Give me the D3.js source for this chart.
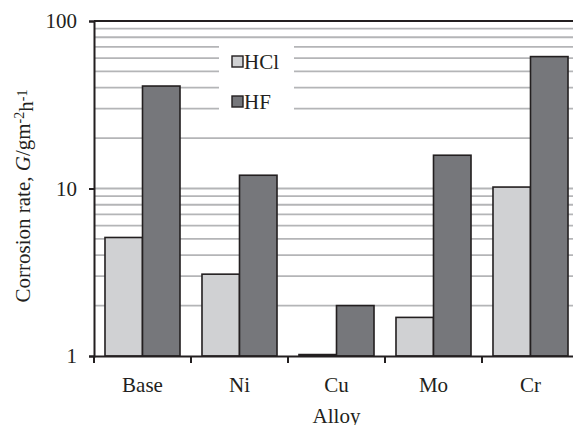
<!DOCTYPE html>
<meta charset="utf-8">
<title>Corrosion rate by alloy</title>
<style>
body {
  margin: 0px;
  background: #fff;
}
svg {
  display: block;
  font-family: "Liberation Serif", "Times New Roman", serif;
}
</style>
<body>
<script src="https://cdn.jsdelivr.net/npm/d3@7"></script>
<script>

// values
var alloys = ["Base", "Ni", "Cu", "Mo", "Cr"];
var series = ["HCl", "HF"];
var hcl = [5.1, 3.08, 1.02, 1.7, 10.2];
var hf = [40.9, 12.0, 2.0, 15.8, 61.3];
var yTicks = [1, 10, 100];
var colors = ["#d0d1d3", "#76777b"];

var width = 573, height = 425;
var plotLeft = 94, plotTop = 21, plotW = 485, plotH = 335;

var svg = d3.select("body").append("svg")
    .attr("width", width)
    .attr("height", height);

var x0 = d3.scaleBand().domain(alloys).range([plotLeft, plotLeft + plotW]);
var x1 = d3.scaleBand().domain(series).range([0, x0.bandwidth()]).paddingOuter(0.293);
var y = d3.scaleLog().domain([1, 100]).range([plotTop + plotH, plotTop]);

// minor gridlines 2..9, 20..90 and the 10 line
var grid = [];
[1, 10].forEach(function (d) {
  for (var k = 2; k <= 9; k++) grid.push(d * k);
});
grid.push(10);

svg.append("g").selectAll("line")
    .data(grid)
  .enter().append("line")
    .attr("x1", plotLeft)
    .attr("x2", plotLeft + plotW)
    .attr("y1", function (d) { return y(d); })
    .attr("y2", function (d) { return y(d); })
    .style("stroke", "#b4b5b7")
    .style("stroke-width", 1.8);

// top border of plot area
svg.append("line")
    .attr("x1", plotLeft).attr("x2", plotLeft + plotW)
    .attr("y1", y(100)).attr("y2", y(100))
    .style("stroke", "#231f20")
    .style("stroke-width", 2);

// legend box sits on the gridlines
svg.append("rect")
    .attr("x", 219).attr("y", 42)
    .attr("width", 75).attr("height", 74)
    .style("fill", "#fff");

var rows = alloys.map(function (a, i) {
  return [{ key: "HCl", value: hcl[i] }, { key: "HF", value: hf[i] }];
});

svg.append("g").selectAll("g")
    .data(rows)
  .enter().append("g")
    .attr("transform", function (d, i) { return "translate(" + x0(alloys[i]) + ",0)"; })
  .selectAll("rect")
    .data(function (d) { return d; })
  .enter().append("rect")
    .attr("x", function (d) { return x1(d.key); })
    .attr("width", x1.bandwidth())
    .attr("y", function (d) { return y(d.value); })
    .attr("height", function (d) { return y(1) - y(d.value); })
    .style("fill", function (d) { return colors[series.indexOf(d.key)]; })
    .style("stroke", "#231f20")
    .style("stroke-width", 1.6);

// axes
var yAxis = d3.axisLeft(y).tickValues(yTicks).tickFormat(d3.format("d")).tickSize(5).tickPadding(12);
var gy = svg.append("g")
    .attr("transform", "translate(" + plotLeft + ",0)")
    .call(yAxis);

var xAxis = d3.axisBottom(x0).tickSize(0).tickPadding(21);
var gx = svg.append("g")
    .attr("transform", "translate(0," + (plotTop + plotH) + ")")
    .call(xAxis);

// category boundary ticks
gx.selectAll(".bound")
    .data(alloys)
  .enter().append("line")
    .attr("class", "bound")
    .attr("x1", function (d) { return x0(d); })
    .attr("x2", function (d) { return x0(d); })
    .attr("y1", 0).attr("y2", 7);

[gx, gy].forEach(function (g) {
  g.selectAll("path, line").style("stroke", "#231f20").style("stroke-width", 2);
  g.selectAll("text").style("font-size", "21px").style("fill", "#231f20")
    .style("font-family", "'Liberation Serif', serif");
});
gy.selectAll("text").attr("dy", "0.33em");

// legend entries
var leg = svg.append("g").selectAll("g")
    .data(series)
  .enter().append("g")
    .attr("transform", function (d, i) { return "translate(232," + (56 + i * 40) + ")"; });

leg.append("rect")
    .attr("width", 11).attr("height", 11)
    .style("fill", function (d, i) { return colors[i]; })
    .style("stroke", "#231f20")
    .style("stroke-width", 1.4);

leg.append("text")
    .attr("x", 12).attr("y", 13)
    .style("font-size", "21px")
    .style("fill", "#231f20")
    .text(function (d) { return d; });

// axis titles
svg.append("text")
    .attr("x", plotLeft + plotW / 2)
    .attr("y", 423)
    .attr("text-anchor", "middle")
    .style("font-size", "21px")
    .style("fill", "#231f20")
    .text("Alloy");

var yt = svg.append("text")
    .attr("transform", "translate(30,196) rotate(-90)")
    .attr("text-anchor", "middle")
    .style("font-size", "21px")
    .style("fill", "#231f20");
yt.append("tspan").text("Corrosion rate, ");
yt.append("tspan").style("font-style", "italic").text("G");
yt.append("tspan").text("/gm");
yt.append("tspan").attr("dy", "-0.45em").style("font-size", "14px").text("-2");
yt.append("tspan").attr("dy", "0.45em").text("h");
yt.append("tspan").attr("dy", "-0.45em").style("font-size", "14px").text("-1");

</script>
